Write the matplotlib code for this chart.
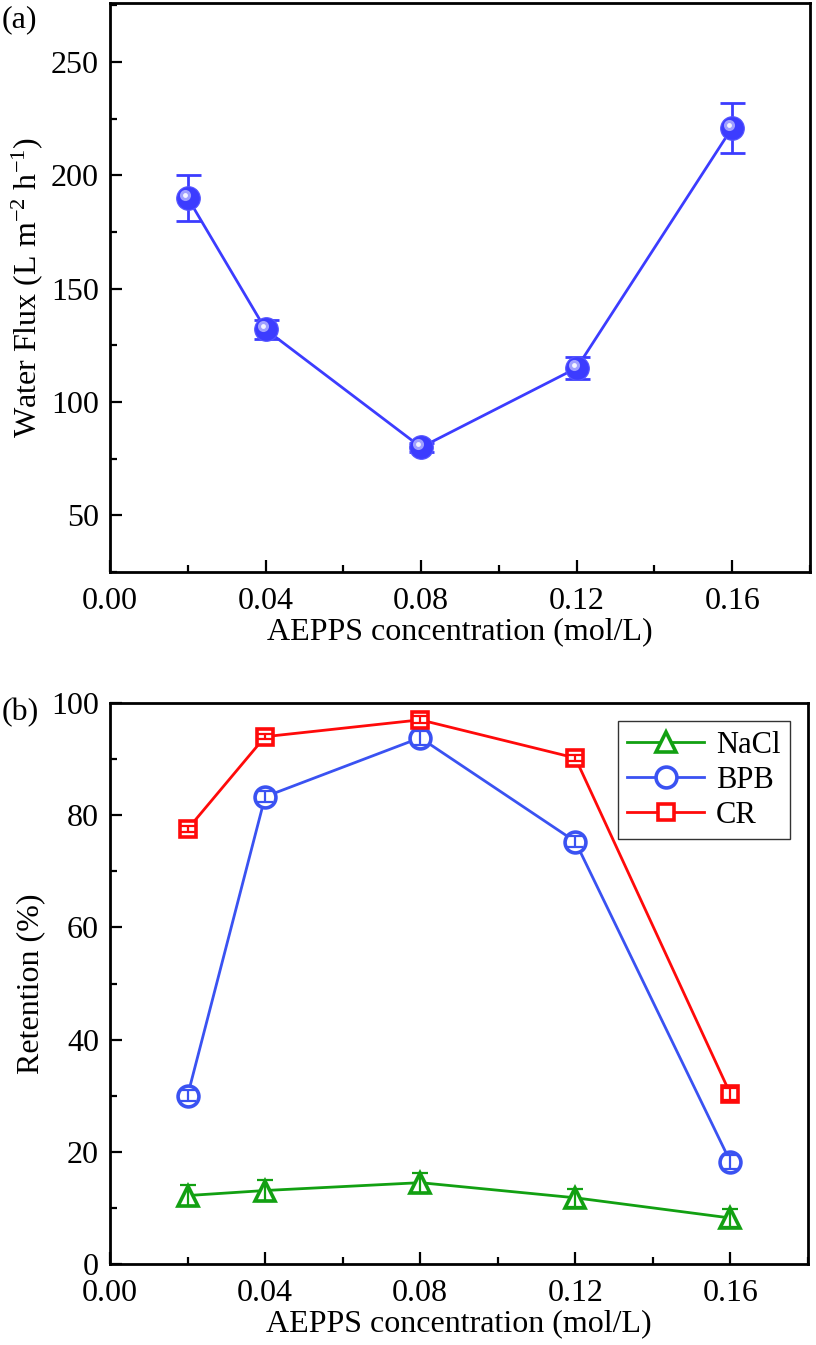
import numpy as np
import matplotlib
matplotlib.use('Agg')
import matplotlib.pyplot as plt
from matplotlib.ticker import MultipleLocator
from matplotlib.transforms import offset_copy

plt.rcParams['font.family'] = ['Liberation Serif', 'DejaVu Serif']
plt.rcParams['mathtext.fontset'] = 'custom'
plt.rcParams['mathtext.rm'] = 'Liberation Serif'
plt.rcParams['mathtext.it'] = 'Liberation Serif:italic'

# ── Data ─────────────────────────────────────────────────────────────────────
conc = [0.02, 0.04, 0.08, 0.12, 0.16]

flux = [190, 132, 80, 115, 221]
flux_err = [10, 4, 2, 5, 11]

nacl = [12.2, 13.1, 14.5, 11.8, 8.2]
nacl_err = [1.8, 1.8, 1.8, 1.6, 1.6]
bpb = [30.0, 83.3, 93.8, 75.3, 18.2]
bpb_err = [1.0, 1.0, 1.2, 1.0, 1.2]
cr = [77.5, 94.0, 97.0, 90.2, 30.3]
cr_err = [0.5, 0.5, 0.6, 0.6, 1.0]

W, H = 816, 1345
fig = plt.figure(figsize=(W / 100, H / 100), dpi=100)

def px_axes(x0, y0, x1, y1):
    return fig.add_axes([x0 / W, 1 - y1 / H, (x1 - x0) / W, (y1 - y0) / H])

def style_axes(ax):
    for s in ax.spines.values():
        s.set_linewidth(2.0)
    ax.tick_params(which='both', direction='in', top=False, right=False,
                   labelsize=23, width=1.6)
    ax.tick_params(which='major', length=8.5, pad=8)
    ax.tick_params(axis='x', which='major', pad=11)
    ax.tick_params(which='minor', length=5)
    ax.set_xlim(0, 0.18)
    ax.xaxis.set_major_locator(MultipleLocator(0.04))
    ax.xaxis.set_minor_locator(MultipleLocator(0.02))
    ax.xaxis.set_major_formatter(plt.FuncFormatter(lambda v, p: f'{v:.2f}'))
    ax.set_xlabel('AEPPS concentration (mol/L)', fontsize=23, labelpad=1)

# ── (a) Water flux ───────────────────────────────────────────────────────────
ax1 = px_axes(110, 3, 810, 572)
style_axes(ax1)
blue = '#3c3cff'
ax1.errorbar(conc, flux, yerr=flux_err, fmt='none', ecolor=blue,
             elinewidth=2.0, capsize=9, capthick=2.0, zorder=2)
ax1.plot(conc, flux, '-', color=blue, lw=2.0, zorder=2)
ax1.plot(conc, flux, 'o', color=blue, ms=17, mec='#5555ff', mew=0.8, zorder=3)
hl = offset_copy(ax1.transData, fig=fig, x=-3, y=3, units='dots')
ax1.plot(conc, flux, 'o', color='#a0a0ff', ms=8, mec='none', transform=hl, zorder=4)
ax1.plot(conc, flux, 'o', color='#f4f4ff', ms=3.5, mec='none', transform=hl, zorder=5)
ax1.set_ylim(25, 276)
ax1.yaxis.set_major_locator(MultipleLocator(50))
ax1.yaxis.set_minor_locator(MultipleLocator(25))
ax1.set_ylabel('Water Flux (L m$^{\\mathrm{-2}}$ h$^{\\mathrm{-1}}$)', fontsize=23, labelpad=4)

# ── (b) Retention ────────────────────────────────────────────────────────────
ax2 = px_axes(110, 703, 808, 1264)
style_axes(ax2)
series = [
    ('NaCl', nacl, nacl_err, '#12a012', '^', 15),
    ('BPB', bpb, bpb_err, '#3a52f2', 'o', 15),
    ('CR', cr, cr_err, '#ff0a0a', 's', 12),
]
for name, vals, err, col, mk, ms in series:
    ax2.plot(conc, vals, '-', marker=mk, color=col, lw=2.0, ms=ms,
             mfc='white', mec=col, mew=2.6, label=name, zorder=3)
    ax2.errorbar(conc, vals, yerr=err, fmt='none', ecolor=col,
                 elinewidth=1.6, capsize=6, capthick=1.6, zorder=4)
ax2.set_ylim(0, 100)
ax2.yaxis.set_major_locator(MultipleLocator(20))
ax2.yaxis.set_minor_locator(MultipleLocator(10))
ax2.set_ylabel('Retention (%)', fontsize=23, labelpad=4)
leg = ax2.legend(loc='upper right', fontsize=22, handlelength=2.5,
                 labelspacing=0.2, borderpad=0.3, handletextpad=0.4,
                 borderaxespad=0.6, fancybox=False, framealpha=1)
leg.get_frame().set_edgecolor('#333333')
leg.get_frame().set_linewidth(1.0)

fig.text(2 / W, 1 - 20 / H, '(a)', fontsize=23, va='center', ha='left')
fig.text(2 / W, 1 - 713 / H, '(b)', fontsize=23, va='center', ha='left')

plt.savefig('out.png', dpi=100)
plt.close()
